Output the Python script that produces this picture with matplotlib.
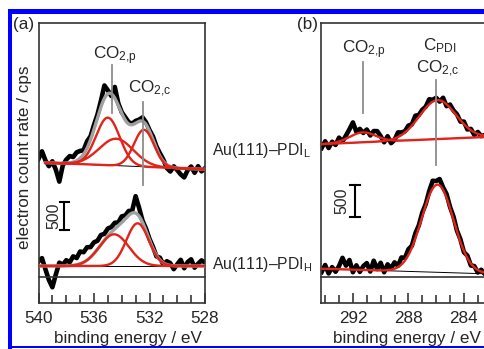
import numpy as np
import matplotlib
matplotlib.use('Agg')
import matplotlib.pyplot as plt
from matplotlib.patches import Rectangle
from matplotlib.ticker import MultipleLocator

plt.rcParams['font.family'] = ['Liberation Sans', 'DejaVu Sans']
plt.rcParams['mathtext.fontset'] = 'custom'
plt.rcParams['mathtext.rm'] = 'Liberation Sans'
plt.rcParams['mathtext.it'] = 'Liberation Sans:italic'
plt.rcParams['mathtext.bf'] = 'Liberation Sans:bold'
plt.rcParams['mathtext.default'] = 'regular'

# ---------------- data ----------------
# Panel (a): O 1s region, binding energy 540 -> 528 eV (0.25 eV steps)
be_a = np.linspace(540, 528, 49)
cps_a_L = [184, 321, 158, 56, 143, -8, -220, 70, 172, 236, 219, 303, 328, 340, 499, 588,
           793, 978, 1224, 1497, 1409, 1308, 1471, 1180, 1019, 930, 841, 816, 864, 887,
           927, 840, 701, 587, 409, 286, 173, 22, -40, 53, -15, -91, -145, -17, 50, -62,
           55, -37, 20]
cps_a_H = [80, 140, -60, -250, -380, -150, 60, 20, 103, 66, 172, 142, 259, 246, 335, 337,
           423, 450, 553, 575, 670, 695, 772, 777, 886, 901, 983, 985, 1246, 1039, 808, 666,
           484, 343, 173, 148, 25, 86, 51, -56, 31, 110, -40, 70, 120, -30, 40, 100, 60]
# fit components (a): centre eV, height cps, FWHM eV
a_L_centers = [535.0, 534.4, 532.4]
a_L_heights = [850, 480, 660]
a_L_fwhm = [2.0, 2.9, 1.7]
a_L_bg = [118, 0]          # background at 539.5 eV and 528 eV
a_L_range = [539.5, 528]
a_H_centers = [534.55, 532.86]
a_H_heights = [566, 762]
a_H_fwhm = [2.5, 1.9]
a_H_bg = [0, 0]
a_H_range = [540, 528]

# Panel (b): C 1s region, binding energy 294.25 -> 282.25 eV
be_b = np.linspace(294.25, 282.25, 49)
cps_b_L = [-59, 45, -60, 38, -12, 102, 42, 135, 232, 340, 193, 239, 175, 229, 136, 205,
           204, 125, 30, 124, 16, 66, 185, 183, 202, 290, 309, 445, 456, 538, 586, 702,
           694, 725, 665, 725, 594, 619, 526, 468, 352, 353, 230, 239, 145, 191, 125, 144, 97]
cps_b_H = [-30, 78, -54, 45, -27, 61, 190, 68, 156, -35, 73, -29, 60, 108, -24, 145, 14,
           113, -35, 88, 25, 120, 65, 196, 188, 324, 379, 572, 698, 896, 1031, 1233, 1394,
           1390, 1421, 1290, 1187, 985, 834, 615, 479, 278, 226, 71, 61, -39, 4, -62, -41]
b_L_centers = [291.3, 285.9]
b_L_heights = [156, 608]
b_L_fwhm = [2.2, 3.1]
b_L_bg = [0, 114]
b_L_range = [294.3, 282.3]
b_H_centers = [285.9]
b_H_heights = [1370]
b_H_fwhm = [2.7]
b_H_bg = [20, -60]
b_H_range = [294.3, 282.3]

# vertical display offsets of the upper spectra (cps)
offset_a_L = 1727
offset_b_L = 1966

# ---------------- styling ----------------
TXT = '#262626'
RED = '#e2231a'
GREY = '#a0a0a0'
LINEG = '#8c8c8c'
BLUE = '#0000ff'
FS = 12.3

W, H = 484, 349
fig = plt.figure(figsize=(W / 100, H / 100), dpi=100)


def fx(px):
    return px / W


def fy(py):
    return 1 - py / H


ax_w = 166.5
axa = fig.add_axes([fx(38.5), fy(303), ax_w / W, 280 / H])
axb = fig.add_axes([fx(321), fy(303), ax_w / W, 280 / H])


def gauss(x, c, h, w):
    return h * np.exp(-4 * np.log(2) * (x - c) ** 2 / w ** 2)


def draw_spectrum(ax, be, cps, off, centers, heights, fwhm, bg, rng, envelope):
    ax.plot(be, np.asarray(cps) + off, color='black', lw=3.3, zorder=2,
            solid_joinstyle='round')
    xf = np.linspace(rng[0], rng[1], 400)
    base = np.interp(xf, [rng[1], rng[0]], [bg[1], bg[0]]) + off
    comps = [gauss(xf, c, h, w) for c, h, w in zip(centers, heights, fwhm)]
    if envelope:
        ax.plot(xf, base + np.sum(comps, axis=0), color=GREY, lw=2.4, zorder=3)
    ax.plot(xf, base, color='black', lw=0.7, zorder=3.5)
    for cp in comps:
        ax.plot(xf, base + cp, color=RED, lw=1.7, zorder=4)


def style_axes(ax, xlim, ylim, majors, xlab_frac):
    ax.set_xlim(*xlim)
    ax.set_ylim(*ylim)
    ax.set_yticks([])
    ax.xaxis.set_major_locator(MultipleLocator(4))
    ax.xaxis.set_minor_locator(MultipleLocator(1))
    ax.set_xticks(majors)
    ax.tick_params(axis='x', which='both', direction='in', top=False, bottom=True,
                   colors=TXT, labelsize=FS, width=1.1, pad=6)
    ax.tick_params(axis='x', which='major', length=7.5)
    ax.tick_params(axis='x', which='minor', length=5.5)
    for s in ax.spines.values():
        s.set_color('#333333')
        s.set_linewidth(1.2)
    box = (303 - 277) / 280
    ax.plot([0, 1], [box, box], transform=ax.transAxes, color='#333333', lw=1.2,
            clip_on=False, zorder=6)
    ax.text(xlab_frac, (303 - 338) / 280, 'binding energy / eV', transform=ax.transAxes,
            ha='center', va='center', fontsize=FS, color=TXT)


# panel (a): 500 cps = 28 px
ppa = 500 / 28
style_axes(axa, (540, 528), (-37 * ppa, 243 * ppa), [540, 536, 532, 528], 0.535)
draw_spectrum(axa, be_a, cps_a_L, offset_a_L, a_L_centers, a_L_heights, a_L_fwhm,
              a_L_bg, a_L_range, True)
draw_spectrum(axa, be_a, cps_a_H, 0, a_H_centers, a_H_heights, a_H_fwhm,
              a_H_bg, a_H_range, True)
# panel (b): 500 cps = 32 px
ppb = 500 / 32
style_axes(axb, (294.3, 282.3), (-33 * ppb, 247 * ppb), [292, 288, 284], 0.517)
draw_spectrum(axb, be_b, cps_b_L, offset_b_L, b_L_centers, b_L_heights, b_L_fwhm,
              b_L_bg, b_L_range, False)
draw_spectrum(axb, be_b, cps_b_H, 0, b_H_centers, b_H_heights, b_H_fwhm,
              b_H_bg, b_H_range, False)

# peak marker lines
axa.plot([534.72, 534.72], [2732, 3589], color=LINEG, lw=1.3, zorder=5)
axa.plot([532.45, 532.45], [1446, 2934], color=LINEG, lw=1.3, zorder=5)
axb.plot([291.26, 291.26], [2448, 3255], color=LINEG, lw=1.3, zorder=5)
axb.plot([285.98, 285.98], [1641, 2969], color=LINEG, lw=1.3, zorder=5)

# peak labels
axa.text(534.5, 3696, 'CO$_{2{,}p}$', ha='center', va='baseline', fontsize=FS, color=TXT)
axa.text(532.0, 3084, 'CO$_{2{,}c}$', ha='center', va='baseline', fontsize=FS, color=TXT)
axb.text(291.2, 3386, 'CO$_{2{,}p}$', ha='center', va='baseline', fontsize=FS, color=TXT)
axb.text(285.74, 3427, 'C$_{PDI}$', ha='center', va='baseline', fontsize=FS, color=TXT)
axb.text(285.9, 3083, 'CO$_{2{,}c}$', ha='center', va='baseline', fontsize=FS, color=TXT)

# 500 cps scale bars
for ax, xb, cap, lo, xt in [(axa, 538.14, 0.32, 650, 538.9), (axb, 291.86, 0.36, 830, 292.81)]:
    hi = lo + 500
    ax.plot([xb, xb], [lo, hi], color='black', lw=1.5, zorder=5)
    ax.plot([xb - cap, xb + cap], [lo, lo], color='black', lw=1.5, zorder=5)
    ax.plot([xb - cap, xb + cap], [hi, hi], color='black', lw=1.5, zorder=5)
    ax.text(xt, (lo + hi) / 2, '500', rotation=90, ha='center', va='center',
            fontsize=FS - 1, color=TXT)

# side labels
fig.text(fx(212), fy(155), 'Au(111)\u2013PDI$_{L}$', ha='left', va='baseline',
         fontsize=FS - 1, color=TXT)
fig.text(fx(212), fy(269), 'Au(111)\u2013PDI$_{H}$', ha='left', va='baseline',
         fontsize=FS - 1, color=TXT)
fig.text(fx(25), fy(157), 'electron count rate / cps', rotation=90, ha='center',
         va='center', fontsize=FS, color=TXT)
fig.text(fx(13), fy(29), '(a)', ha='left', va='baseline', fontsize=FS, color=TXT)
fig.text(fx(297), fy(29), '(b)', ha='left', va='baseline', fontsize=FS, color=TXT)

# blue frame
fig.add_artist(Rectangle((fx(8), fy(14)), 1 - fx(8), 5 / H, transform=fig.transFigure,
                         color=BLUE, lw=0))
fig.add_artist(Rectangle((fx(8), 0), 4 / W, fy(9), transform=fig.transFigure,
                         color=BLUE, lw=0))
fig.add_artist(Rectangle((fx(8), fy(348)), 1 - fx(8), 1.6 / H, transform=fig.transFigure,
                         color=BLUE, lw=0))

fig.savefig('out.png', dpi=100)
